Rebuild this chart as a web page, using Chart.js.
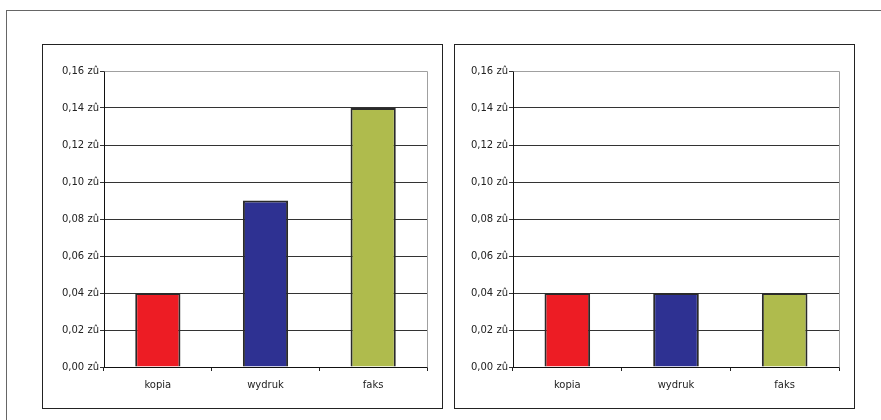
<!DOCTYPE html>
<html>
<head>
<meta charset="utf-8">
<script src="https://cdn.jsdelivr.net/npm/chart.js@4.4.0/dist/chart.umd.min.js"></script>
<style>
  html, body { margin: 0; padding: 0; background: #fff; }
  body { width: 881px; height: 420px; position: relative; overflow: hidden; }
  .frame { position: absolute; left: 6px; top: 10px; width: 900px; height: 440px;
           border-left: 1px solid #666; border-top: 1px solid #666; box-sizing: border-box; }
  .panel { position: absolute; top: 44px; width: 401px; height: 365px;
           border: 1px solid #222; box-sizing: border-box; background: #fff; }
  .panel canvas { display: block; }
</style>
</head>
<body>
<div class="frame"></div>
<div class="panel" style="left:42px"><canvas id="left" width="399" height="363"></canvas></div>
<div class="panel" style="left:454px"><canvas id="right" width="399" height="363"></canvas></div>
<script>
// Price per page for each service
const categories = ['kopia', 'wydruk', 'faks'];
const leftValues = [0.04, 0.09, 0.14];
const rightValues = [0.04, 0.04, 0.04];
const barColors = ['#ed1c24', '#2e3192', '#afbb4d'];
const yTicks = [0, 0.02, 0.04, 0.06, 0.08, 0.10, 0.12, 0.14, 0.16];

const FONT = { family: 'DejaVu Sans', size: 10 };

// Light grey frame on the top and right of the plot area
const plotFrame = {
  id: 'plotFrame',
  beforeDatasetsDraw(chart) {
    const { ctx, chartArea: a } = chart;
    ctx.save();
    ctx.strokeStyle = '#a0a0a0';
    ctx.lineWidth = 1;
    ctx.beginPath();
    ctx.moveTo(Math.round(a.left) + 0.5, Math.round(a.top) + 0.5);
    ctx.lineTo(Math.round(a.right) + 0.5, Math.round(a.top) + 0.5);
    ctx.lineTo(Math.round(a.right) + 0.5, Math.round(a.bottom) + 0.5);
    ctx.stroke();
    ctx.restore();
  }
};

function makeChart(id, values, axisWidth) {
  return new Chart(document.getElementById(id), {
    type: 'bar',
    data: {
      labels: categories,
      datasets: [{
        data: values,
        backgroundColor: barColors,
        borderColor: '#2a2a2a',
        borderWidth: 2,
        borderSkipped: 'start',
        categoryPercentage: 1,
        barPercentage: 0.42
      }]
    },
    options: {
      responsive: false,
      animation: false,
      devicePixelRatio: 1,
      layout: { padding: { left: 0, right: 15, top: 26, bottom: 0 } },
      plugins: { legend: { display: false }, tooltip: { enabled: false } },
      scales: {
        x: {
          offset: true,
          grid: { display: true, drawOnChartArea: false, drawTicks: true, tickLength: 4,
                  color: '#222', offset: true },
          border: { display: true, color: '#111' },
          ticks: { color: '#222', font: FONT, padding: 8 },
          afterFit(scale) { scale.height = 41; }
        },
        y: {
          min: 0, max: 0.16,
          afterBuildTicks(scale) { scale.ticks = yTicks.map(v => ({ value: v })); },
          grid: { color: '#333', tickLength: 4, drawTicks: true },
          border: { display: true, color: '#111' },
          ticks: {
            color: '#222', font: FONT, padding: 1,
            callback: v => v.toFixed(2).replace('.', ',') + ' zû'
          },
          afterFit(scale) { scale.width = axisWidth; }
        }
      }
    },
    plugins: [plotFrame]
  });
}

makeChart('left', leftValues, 61);
makeChart('right', rightValues, 58);
</script>
</body>
</html>
